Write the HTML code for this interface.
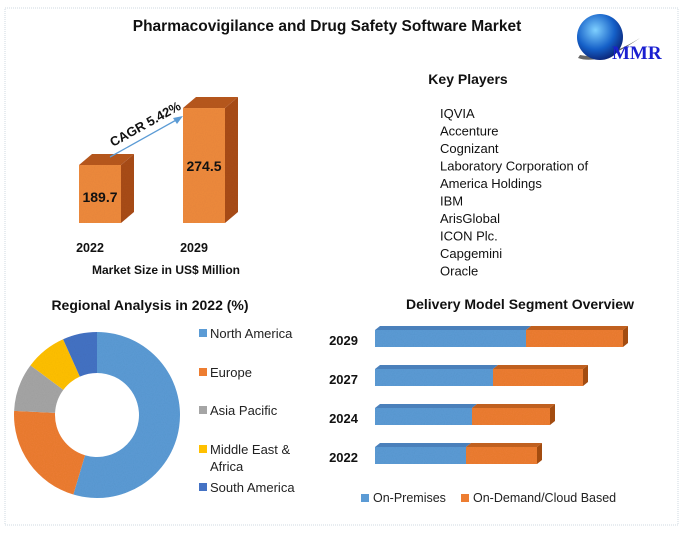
<!DOCTYPE html>
<html><head><meta charset="utf-8"><style>
body{margin:0;background:#fff;font-family:"Liberation Sans",sans-serif;}
#wrap{position:relative;width:684px;height:537px;overflow:hidden;background:#fff}
</style></head><body>
<div id="wrap">
<svg id="svg" width="684" height="537" viewBox="0 0 684 537" xmlns="http://www.w3.org/2000/svg">
<defs>
<filter id="grain"><feTurbulence type="fractalNoise" baseFrequency="0.9" numOctaves="1" result="n"/><feColorMatrix type="saturate" values="0"/><feComponentTransfer><feFuncA type="table" tableValues="0 0.18"/></feComponentTransfer><feComposite in2="SourceGraphic" operator="in"/><feBlend in="SourceGraphic" mode="multiply"/></filter>
<radialGradient id="globe" cx="0.4" cy="0.35" r="0.7"><stop offset="0" stop-color="#7fd0ff"/><stop offset="0.6" stop-color="#1560c8"/><stop offset="1" stop-color="#0a1f70"/></radialGradient>
</defs>
<rect x="5" y="8" width="673" height="517" fill="none" stroke="#cfd8e0" stroke-dasharray="1,1"/>
<text x="327" y="31" text-anchor="middle" font-size="15.5" font-weight="bold" fill="#111">Pharmacovigilance and Drug Safety Software Market</text>
<g>
<path d="M578 58 Q600 66 640 38 Q605 60 580 55 Z" fill="#666"/>
<circle cx="600" cy="37" r="23" fill="url(#globe)"/>
<text x="612" y="59" font-family="Liberation Serif,serif" font-size="19" font-weight="bold" fill="#1a1fd0">MMR</text>
</g>
<text x="468" y="84" text-anchor="middle" font-size="14" font-weight="bold" fill="#111">Key Players</text>
<g id="players" font-size="13" fill="#111"></g>
<g id="market"></g>
<text x="166" y="274" text-anchor="middle" font-size="12" font-weight="bold" fill="#111">Market Size in US$ Million</text>
<text x="150" y="310" text-anchor="middle" font-size="14" font-weight="bold" fill="#111">Regional Analysis in 2022 (%)</text>
<g id="donut"></g>
<g id="donutLegend" font-size="13" fill="#222"></g>
<text x="520" y="309" text-anchor="middle" font-size="14" font-weight="bold" fill="#111">Delivery Model Segment Overview</text>
<g id="delivery"></g>
<g>
<rect x="361" y="494" width="8" height="8" fill="#5b9bd5"/>
<text x="373" y="502" font-size="12.5" fill="#222">On-Premises</text>
<rect x="461" y="494" width="8" height="8" fill="#ed7d31"/>
<text x="473" y="502" font-size="12.5" fill="#222">On-Demand/Cloud Based</text>
</g>
</svg>
</div>
<script>
const NS="http://www.w3.org/2000/svg";
// Market size data
const marketYears=["2022","2029"];
const marketValues=[189.7,274.5];
const cagrLabel="CAGR 5.42%";
// Regional donut data
const regions=["North America","Europe","Asia Pacific","Middle East & Africa","South America"];
const regionShares=[54.6,21.2,9.4,8.1,6.7];
const regionColors=["#5b9bd5","#ed7d31","#a5a5a5","#ffc000","#4472c4"];
// Delivery model data
const deliveryYears=["2029","2027","2024","2022"];
const onPremises=[151,118,97,91];
const cloudBased=[97,90,78,71];
// Key players
const players=["IQVIA","Accenture","Cognizant","Laboratory Corporation of","America Holdings","IBM","ArisGlobal","ICON Plc.","Capgemini","Oracle"];

function mk(tag,attrs,parent){const e=document.createElementNS(NS,tag);for(const k in attrs)e.setAttribute(k,attrs[k]);parent.appendChild(e);return e;}

const pg=document.getElementById('players');
players.forEach((p,i)=>{const t=mk('text',{x:440,y:118+i*17.5},pg);t.textContent=p;

});

const mg=document.getElementById('market');
const baseY=223, barW=42, dx=13, dy=11;
const barX=[79,183];
function hScale(v){return (v-103.4)*0.672;}
marketValues.forEach((v,i)=>{
  const x=barX[i], h=hScale(v), top=baseY-h;
  const g=mk('g',{},mg);
  
  
  mk('polygon',{points:`${x},${top} ${x+dx},${top-dy} ${x+barW+dx},${top-dy} ${x+barW},${top}`,fill:'#b8581e',filter:'url(#grain)'},g);
  mk('polygon',{points:`${x+barW},${top} ${x+barW+dx},${top-dy} ${x+barW+dx},${baseY-dy} ${x+barW},${baseY}`,fill:'#a94c14',filter:'url(#grain)'},g);
  mk('rect',{x:x,y:top,width:barW,height:h,fill:'#ee8a3c',filter:'url(#grain)'},g);
  const lbl=mk('text',{x:x+barW/2,y:i==0?top+37:top+63,'text-anchor':'middle','font-size':14,'font-weight':'bold',fill:'#111'},g);
  lbl.textContent=v.toFixed(1);
  const yl=mk('text',{x:x+barW/2-10,y:252,'text-anchor':'middle','font-size':12.5,'font-weight':'bold',fill:'#111'},mg);
  yl.textContent=marketYears[i];
  
  
});
const arrowG=mk('g',{},mg);


mk('line',{x1:110,y1:157,x2:178,y2:119,stroke:'#5b9bd5','stroke-width':1.3},arrowG);
mk('polygon',{points:'183,116 173,118 177,124',fill:'#5b9bd5'},arrowG);
const ct=mk('text',{x:0,y:0,'font-size':13,'font-weight':'bold',fill:'#111',transform:'translate(113,147) rotate(-29)'},arrowG);
ct.textContent=cagrLabel;

const dg=document.getElementById('donut');
const cx=97, cy=415, R=83, r=42;
const total=regionShares.reduce((a,b)=>a+b,0);
let acc=0;
function pt(rad,a){return [cx+rad*Math.sin(a),cy-rad*Math.cos(a)];}
regionShares.forEach((s,i)=>{
  const a0=acc/total*2*Math.PI; acc+=s; const a1=acc/total*2*Math.PI;
  const large=(a1-a0)>Math.PI?1:0;
  const [x0,y0]=pt(R,a0),[x1,y1]=pt(R,a1),[x2,y2]=pt(r,a1),[x3,y3]=pt(r,a0);
  const p=mk('path',{d:`M${x0},${y0} A${R},${R} 0 ${large} 1 ${x1},${y1} L${x2},${y2} A${r},${r} 0 ${large} 0 ${x3},${y3} Z`,fill:regionColors[i],filter:'url(#grain)'},dg);
  
  
});
const lg=document.getElementById('donutLegend');
const legY=[338,377,415,454,492];
regions.forEach((nm,i)=>{
  const sw=mk('rect',{x:199,y:legY[i]-9,width:8,height:8,fill:regionColors[i]},lg);
  
  
  if(i===3){
    const t=mk('text',{x:210,y:legY[i]},lg);t.textContent="Middle East &";
    
    
    const t2=mk('text',{x:210,y:legY[i]+17},lg);t2.textContent="Africa";
  } else {
    const t=mk('text',{x:210,y:legY[i]},lg);t.textContent=nm;
    
    
  }
});

const bg=document.getElementById('delivery');
const x0=375, bh=17, bdx=5, bdy=4;
const rowY=[330,369,408,447];
function xs(v){return v*1.0;}
deliveryYears.forEach((yr,i)=>{
  const y=rowY[i];
  const g=mk('g',{},bg);
  
  
  const w1=xs(onPremises[i]), w2=xs(cloudBased[i]);
  mk('polygon',{points:`${x0},${y} ${x0+bdx},${y-bdy} ${x0+w1+bdx},${y-bdy} ${x0+w1},${y}`,fill:'#4a80bb'},g);
  mk('polygon',{points:`${x0+w1},${y} ${x0+w1+bdx},${y-bdy} ${x0+w1+w2+bdx},${y-bdy} ${x0+w1+w2},${y}`,fill:'#c0601f'},g);
  mk('polygon',{points:`${x0+w1+w2},${y} ${x0+w1+w2+bdx},${y-bdy} ${x0+w1+w2+bdx},${y+bh-bdy} ${x0+w1+w2},${y+bh}`,fill:'#a34c10'},g);
  const b1=mk('rect',{x:x0,y:y,width:w1,height:bh,fill:'#5b9bd5',filter:'url(#grain)'},g);
  
  
  const b2=mk('rect',{x:x0+w1,y:y,width:w2,height:bh,fill:'#ed7d31',filter:'url(#grain)'},g);
  
  
  const t=mk('text',{x:358,y:y+15,'text-anchor':'end','font-size':13,'font-weight':'bold',fill:'#111'},g);
  t.textContent=yr;
});
</script>
</body></html>
